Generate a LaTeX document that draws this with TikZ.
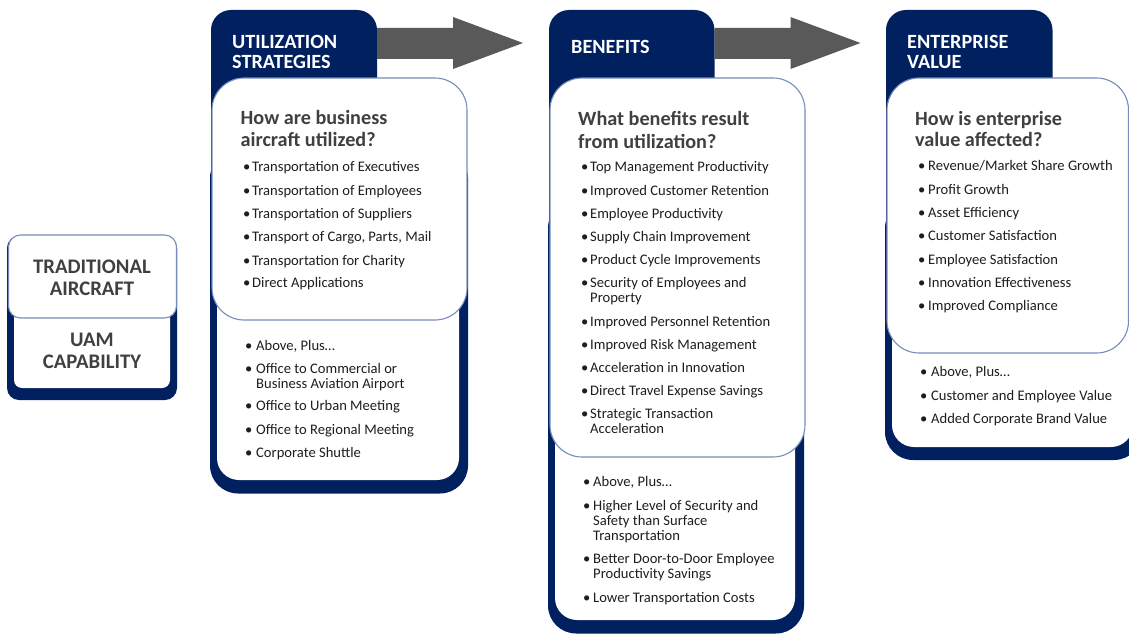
\documentclass[tikz,border=0pt]{standalone}
\usepackage{fontspec}
\usetikzlibrary{calc}
\setmainfont{Carlito}
\definecolor{navy}{RGB}{0,32,96}
\definecolor{edge}{RGB}{118,140,185}
\definecolor{arrowgray}{RGB}{89,89,89}
\definecolor{qgray}{RGB}{64,64,64}
\definecolor{txt}{RGB}{30,30,30}
\tikzset{
 hdr/.style={font=\bfseries\fontsize{20.2}{22}\selectfont, text=white, anchor=base west, inner sep=0pt},
 ques/.style={font=\bfseries\fontsize{20.2}{22}\selectfont, text=qgray, anchor=base west, inner sep=0pt},
 itm/.style={font=\fontsize{14.6}{15}\selectfont, text=txt, anchor=base west, inner sep=0pt},
 lbox/.style={font=\bfseries\fontsize{20.7}{22}\selectfont, text=qgray, anchor=base, inner sep=0pt},
 card/.style={fill=white, draw=edge, line width=1.1pt},
 navyfill/.style={fill=navy},
 arr/.style={fill=arrowgray}
}
\newcommand\itemlist[4]{%
 \foreach \yy/\bb/\lbl [count=\i] in {#4}{%
   \node[itm] (#1t\i) at (#3,\yy) {\lbl};
   \ifnum\bb=1 \node[itm] (#1b\i) at (#2,\yy) {\textbullet};\fi
 }}
\begin{document}
\begin{tikzpicture}[x=1pt,y=-1pt]
\useasboundingbox (0,0) rectangle (1129,634);
\clip (0,0) rectangle (1129,634);
\fill[white] (0,0) rectangle (1129,634);

% ---------- left box ----------
\fill[navyfill, rounded corners=12] (7,236) rectangle (177,400);
\fill[white, rounded corners=8] (14,250) rectangle (170,388);
\filldraw[card, rounded corners=12] (8.5,235) rectangle (176.5,318);
\node[lbox] (trad1) at (92,273.3) {TRADITIONAL};
\node[lbox] (trad2) at (92,295) {AIRCRAFT};
\node[lbox] (uam1) at (92,346.7) {UAM};
\node[lbox] (uam2) at (92,368.3) {CAPABILITY};

% ---------- column 1 ----------
\fill[navyfill, rounded corners=28] (210,150) rectangle (468,493.5);
\fill[white, rounded corners=22] (217,150) rectangle (459,480);
\fill[navyfill, rounded corners=20] (211,300) -- (211,10) -- (377,10) -- (377,300) -- cycle;
\filldraw[card, rounded corners=32] (212,78) rectangle (467,320);
\coordinate (tab1e) at (377,43.5);
\coordinate (tab2w) at (549,43.5);
\node[hdr] (h1a) at (232,48.3) {UTILIZATION};
\node[hdr] (h1b) at (232,69) {STRATEGIES};
\node[ques] (q1a) at (240.5,124) {How are business};
\node[ques] (q1b) at (240.5,146.7) {aircraft utilized?};
\itemlist{c1u}{243}{252}{171.7/1/Transportation of Executives, 195/1/Transportation of Employees, 218.3/1/Transportation of Suppliers, 241.7/1/{Transport of Cargo, Parts, Mail}, 265/1/Transportation for Charity, 287.3/1/Direct Applications}
\itemlist{c1l}{245}{256}{350/1/{Above, Plus…}, 373.3/1/Office to Commercial or, 388.3/0/Business Aviation Airport, 410.7/1/Office to Urban Meeting, 434/1/Office to Regional Meeting, 457.3/1/Corporate Shuttle}

% ---------- column 2 ----------
\fill[navyfill, rounded corners=28] (548,200) rectangle (804,633.5);
\fill[white, rounded corners=22] (555,200) rectangle (795,620);
\fill[navyfill, rounded corners=20] (549,300) -- (549,10) -- (714.5,10) -- (714.5,300) -- cycle;
\filldraw[card, rounded corners=32] (550,78) rectangle (805,457);
\coordinate (tab2e) at (714.5,43.5);
\coordinate (tab3w) at (886,43.5);
\node[hdr] (h2a) at (571,53.3) {BENEFITS};
\node[ques] (q2a) at (578,125) {What benefits result};
\node[ques] (q2b) at (578,148) {from utilization?};
\itemlist{c2u}{581}{590}{171.7/1/Top Management Productivity, 195/1/Improved Customer Retention, 218.3/1/Employee Productivity, 241.7/1/Supply Chain Improvement, 264.5/1/Product Cycle Improvements, 287.3/1/Security of Employees and, 302.7/0/Property, 326/1/Improved Personnel Retention, 349.3/1/Improved Risk Management, 372.7/1/Acceleration in Innovation, 395.5/1/Direct Travel Expense Savings, 418.3/1/Strategic Transaction, 433.3/0/Acceleration}
\itemlist{c2l}{583}{593}{486.7/1/{Above, Plus…}, 510/1/Higher Level of Security and, 525/0/Safety than Surface, 540/0/Transportation, 563.3/1/Better Door-to-Door Employee, 578.3/0/Productivity Savings, 602.7/1/Lower Transportation Costs}

% ---------- column 3 ----------
\fill[navyfill, rounded corners=28] (885,200) rectangle (1142,460);
\fill[white, rounded corners=22] (892,200) rectangle (1133,447);
\fill[navyfill, rounded corners=20] (886,300) -- (886,10) -- (1052.5,10) -- (1052.5,300) -- cycle;
\filldraw[card, rounded corners=32] (887,78) rectangle (1128.5,353);
\node[hdr] (h3a) at (907,48.3) {ENTERPRISE};
\node[hdr] (h3b) at (907,69) {VALUE};
\node[ques] (q3a) at (915,125) {How is enterprise};
\node[ques] (q3b) at (915,146.7) {value affected?};
\itemlist{c3u}{918}{928}{170.7/1/{Revenue/Market Share Growth}, 194/1/Profit Growth, 217.7/1/Asset Efficiency, 240.7/1/Customer Satisfaction, 264/1/Employee Satisfaction, 287.3/1/Innovation Effectiveness, 310/1/Improved Compliance}
\itemlist{c3l}{920}{931}{376/1/{Above, Plus…}, 400/1/Customer and Employee Value, 423.3/1/Added Corporate Brand Value}

% ---------- block arrows between tabs ----------
\fill[arr] ($(tab1e)+(0,-15.5)$) -- ++(76,0) -- ++(0,-11) -- ($(tab1e)+(146,-0.5)$) -- ($(tab1e)+(76,25.5)$) -- ++(0,-10) -- ($(tab1e)+(0,15.5)$) -- cycle;
\fill[arr] ($(tab2e)+(0,-15.5)$) -- ++(76,0) -- ++(0,-11) -- ($(tab2e)+(146,-0.5)$) -- ($(tab2e)+(76,25.5)$) -- ++(0,-10) -- ($(tab2e)+(0,15.5)$) -- cycle;
\end{tikzpicture}
\end{document}
